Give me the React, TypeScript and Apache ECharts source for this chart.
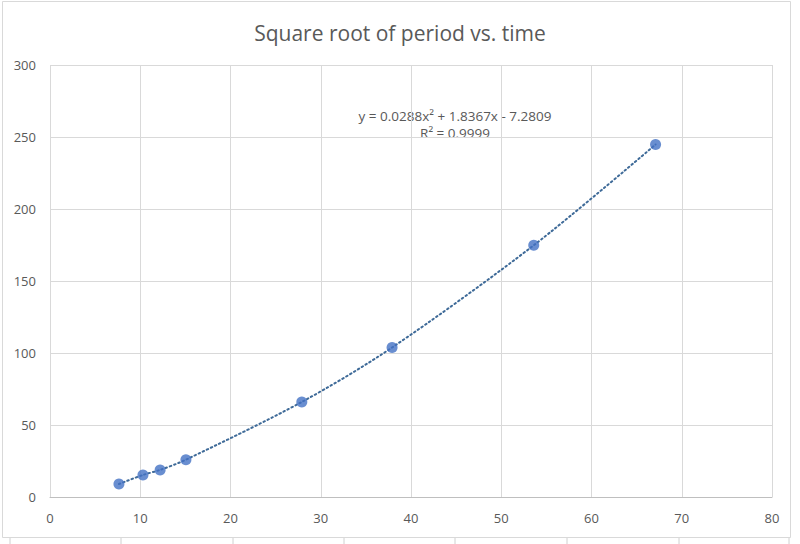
import React, { useEffect, useRef } from "react";
import * as echarts from "echarts";

const xValues = [7.64, 10.3, 12.2, 15.06, 27.9, 37.9, 53.6, 67.1];
const yValues = [9.0, 15.3, 18.8, 25.9, 66.0, 103.8, 174.8, 244.8];
const xTicks = [0, 80, 10];
const yTicks = [0, 300, 50];
const titleText = "Square root of period vs. time";
const equationText = "y = 0.0288x² + 1.8367x - 7.2809";
const r2Text = "R² = 0.9999";
const cellLineXs = [10, 121, 233, 344, 455, 567, 679, 789];

export default function App() {
  const ref = useRef<HTMLDivElement>(null);
  useEffect(() => {
    if (!ref.current) return;
    const chart = echarts.init(ref.current, undefined, { renderer: "svg" });
    const pts = xValues.map((x, i) => [x, yValues[i]]);
    const font = "'Open Sans', 'Liberation Sans', sans-serif";
    const cellLines = cellLineXs.map((x) => ({
      type: "line",
      shape: { x1: x, y1: 538, x2: x, y2: 544 },
      style: { stroke: "#d0d0d0", lineWidth: 1 },
      silent: true,
    }));
    chart.setOption({
      animation: false,
      backgroundColor: "#ffffff",
      textStyle: { fontFamily: font },
      title: {
        text: titleText,
        left: "center",
        top: 17,
        textStyle: { fontSize: 21, fontWeight: "normal", color: "#595959", fontFamily: font },
      },
      grid: { left: 50, right: 28, top: 65, bottom: 47 },
      xAxis: {
        type: "value",
        min: xTicks[0],
        max: xTicks[1],
        interval: xTicks[2],
        axisLine: { show: true, lineStyle: { color: "#bfbfbf", width: 1 } },
        axisTick: { show: false },
        axisLabel: { color: "#595959", fontSize: 13, margin: 14, fontFamily: font },
        splitLine: { show: true, lineStyle: { color: "#d9d9d9", width: 1 } },
      },
      yAxis: {
        type: "value",
        min: yTicks[0],
        max: yTicks[1],
        interval: yTicks[2],
        axisLine: { show: false },
        axisTick: { show: false },
        axisLabel: { color: "#595959", fontSize: 13, margin: 14, fontFamily: font },
        splitLine: { show: true, lineStyle: { color: "#d9d9d9", width: 1 } },
      },
      series: [
        {
          type: "line",
          data: pts,
          smooth: 0.3,
          showSymbol: false,
          symbol: "none",
          lineStyle: { color: "#3E6A98", width: 2, type: [1.5, 3], cap: "round" },
          z: 1,
        },
        {
          type: "scatter",
          data: pts,
          symbol: "circle",
          symbolSize: 11,
          itemStyle: { color: "#4472C4" },
          z: 2,
        },
      ],
      graphic: [
        {
          type: "rect",
          shape: { x: 2.5, y: 1.5, width: 788, height: 536 },
          style: { fill: "none", stroke: "#d9d9d9", lineWidth: 1 },
          silent: true,
        },
        ...cellLines,
        {
          type: "text",
          x: 455,
          y: 116,
          style: {
            text: equationText,
            fill: "#595959",
            font: `13.5px ${font}`,
            align: "center",
            verticalAlign: "middle",
          },
        },
        {
          type: "text",
          x: 455,
          y: 133,
          style: {
            text: r2Text,
            fill: "#595959",
            font: `13.5px ${font}`,
            align: "center",
            verticalAlign: "middle",
          },
        },
      ],
    });
    return () => chart.dispose();
  }, []);
  return (
    <div
      ref={ref}
      style={{ position: "fixed", left: 0, top: 0, width: 800, height: 544 }}
    />
  );
}
